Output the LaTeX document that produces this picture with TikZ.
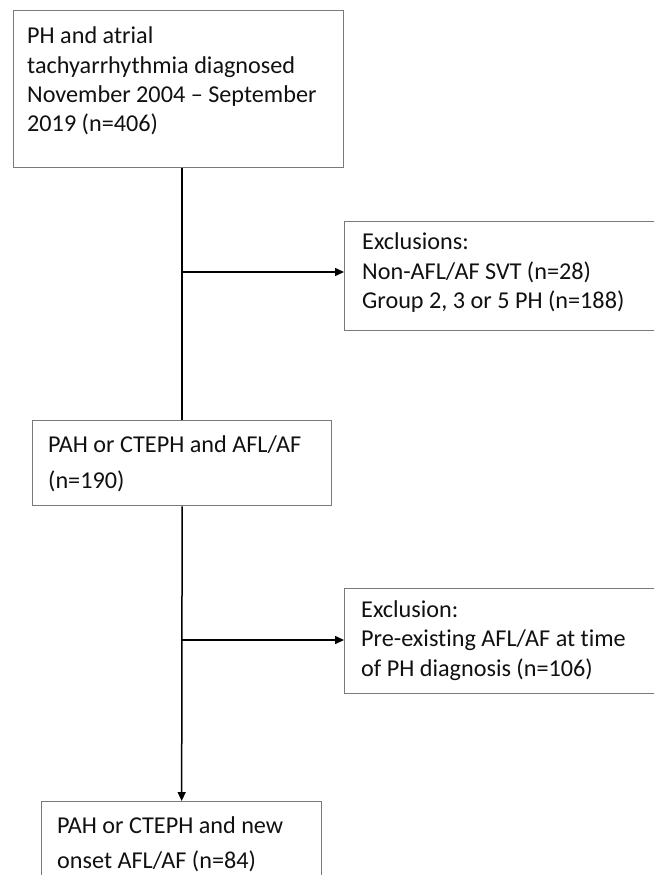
\documentclass[tikz,border=0pt]{standalone}
\usepackage{fontspec}
\setmainfont{Carlito}[Ligatures=CommonOff]
\usetikzlibrary{arrows.meta,calc}
\definecolor{boxgray}{HTML}{7A7A7A}
\definecolor{textblack}{HTML}{111111}
\begin{document}
\begin{tikzpicture}[x=1pt,y=-1pt,
  boxframe/.style={draw=boxgray, line width=1.3pt, inner sep=0pt, anchor=north west},
  txt/.style={anchor=base west, inner sep=0pt, text width=400pt,
              text=textblack, font=\fontsize{24.2pt}{#1}\selectfont,
              execute at begin node={\spaceskip=0.226em\relax\xspaceskip=0.226em\relax}},
  conn/.style={line width=1.5pt, draw=black},
  arr/.style={conn, -{Triangle[length=9pt,width=8pt]}}]
\useasboundingbox (0,0) rectangle (654,875);
\fill[white] (0,0) rectangle (654,875);
\clip (0,0) rectangle (654,875);

% boxes
\node[boxframe, minimum width=330pt, minimum height=157pt] (b1) at (13,10) {};
\node[boxframe, minimum width=330pt, minimum height=109pt] (e1) at (344,221) {};
\node[boxframe, minimum width=299pt, minimum height=85pt]  (b2) at (32,420) {};
\node[boxframe, minimum width=330pt, minimum height=105pt] (e2) at (344,588) {};
\node[boxframe, minimum width=280pt, minimum height=120pt] (b3) at (41,801) {};

% texts
\node[txt=29.3pt] (t1) at (27,44) {PH and atrial\\tachyarrhythmia diagnosed\\November 2004 – September\\2019 (n=406)};
\node[txt=29.5pt] (te1) at (362,249.5) {Exclusions:\\Non-AFL/AF SVT (n=28)\\Group 2, 3 or 5 PH (n=188)};
\node[txt=36.5pt] (t2) at (48,452) {PAH or CTEPH and AFL/AF\\(n=190)};
\node[txt=29.5pt] (te2) at (361,617) {Exclusion:\\Pre-existing AFL/AF at time\\of PH diagnosis (n=106)};
\node[txt=35pt] (t3) at (57,833) {PAH or CTEPH and new\\onset AFL/AF (n=84)};

% connectors
\coordinate (j1) at (b2.north |- 0,272);
\coordinate (j2) at (b2.south |- 0,640);
\draw[conn] (b1.south -| b2.north) -- (b2.north);
\draw[arr] (j1) -- (j1 -| e1.west);
\draw[arr] (b2.south) -- (b3.north);
\draw[arr] (j2) -- (j2 -| e2.west);
\end{tikzpicture}
\end{document}
